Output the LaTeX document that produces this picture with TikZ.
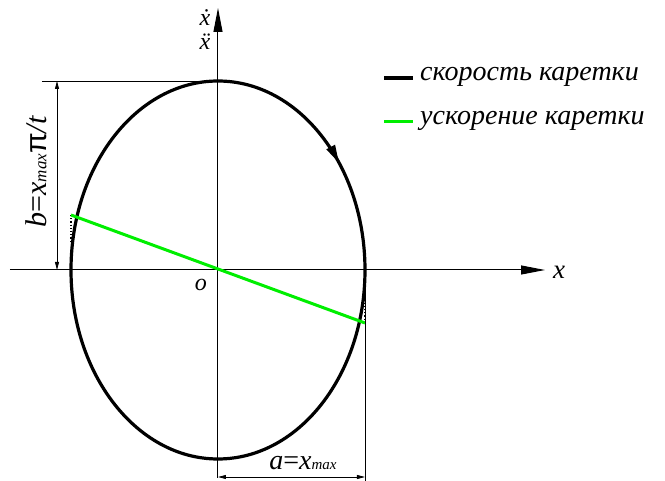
\documentclass[tikz,border=0pt]{standalone}
\usepackage{fontspec}
\setmainfont{Liberation Serif}
\newfontfamily\pifont{Liberation Sans}
\usetikzlibrary{arrows.meta,decorations.markings}
\definecolor{accel}{HTML}{00EE00}
\definecolor{thin}{HTML}{9A9A9A}

\begin{document}
\begin{tikzpicture}[x=1pt,y=1pt,
    every node/.style={font=\fontsize{24}{28}\selectfont\itshape, inner sep=0pt},
    axis/.style={thin, line width=1pt, -{Triangle[length=24pt,width=9pt,color=black]}},
    dimline/.style={thin, line width=0.8pt,
      {Triangle[length=8pt,width=4pt,color=black]}-{Triangle[length=8pt,width=4pt,color=black]}},
    extline/.style={thin, line width=0.8pt},
    speed/.style={black, line width=3.2pt},
    accline/.style={accel, line width=3pt},
    tangent/.style={black, line width=1.2pt, dotted},
    legend/.style={anchor=west, font=\fontsize{28}{32}\selectfont\itshape}]
        \useasboundingbox (-218,-211) rectangle (447,270);
        % axes
        \coordinate (O) at (0,0);
        \coordinate (xstart) at (-208,0);
        \coordinate (xend) at (327,0);
        \coordinate (ystart) at (0,-208);
        \coordinate (yend) at (0,262);
        \draw[axis] (xstart) -- (xend);
        \draw[axis] (ystart) -- (yend);
        \node[anchor=west, font=\fontsize{27}{30}\selectfont\itshape] (xlbl) at ([xshift=8pt,yshift=-2pt]xend) {x};
        \node (vlbl) at (-13,252) {\.{x}};
        \node (albl) at (-13,228) {\"{x}};
        \node (olbl) at (-17,-15) {o};
        % velocity ellipse
        \draw[speed, postaction={decorate}, decoration={markings,
            mark=at position 0.145 with {\arrow{Triangle[length=18pt,width=9pt]}}}]
          (0,189) arc[start angle=90, end angle=-270, x radius=147, y radius=189];
        % acceleration line
        \coordinate (accL) at (-147,55);
        \coordinate (accR) at (147,-53);
        \draw[tangent] (accL) -- ++(0,-28);
        \draw[tangent] (accR) -- ++(0,33);
        \draw[accline] (accL) -- (accR);
        % dimension b
        \coordinate (btop) at (-161,189);
        \coordinate (bbot) at (-161,0);
        \draw[extline] (-176,189) -- (0,189);
        \draw[dimline] (btop) -- (bbot);
        \node[rotate=90, font=\fontsize{30}{34}\selectfont\itshape] (blbl) at (-182,98)
          {b\upshape=\itshape x{\fontsize{17}{19}\selectfont max}{\upshape\pifont π}/t};
        % dimension a
        \coordinate (aleft) at (0,-207);
        \coordinate (aright) at (147,-207);
        \draw[extline] (147,0) -- (147,-211);
        \draw[dimline] (aleft) -- (aright);
        \node[font=\fontsize{28}{32}\selectfont\itshape] (alabel) at (85,-193)
          {a\upshape=\itshape x{\fontsize{15}{17}\selectfont max}};
        % legend
        \node[legend] (lgspeed) at (202,193) {скорость каретки};
        \node[legend] (lgaccel) at (202,149) {ускорение каретки};
        \draw[speed] ([xshift=-36pt,yshift=-1pt]lgspeed.west) -- ++(29,0);
        \draw[accline] ([xshift=-36pt,yshift=-1pt]lgaccel.west) -- ++(29,0);
      \end{tikzpicture}
\end{document}
